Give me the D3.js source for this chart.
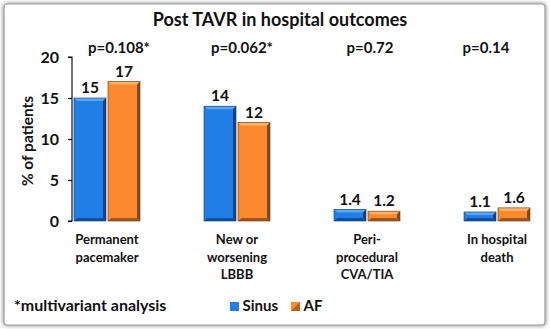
<!DOCTYPE html>
<html>
<head>
<meta charset="utf-8">
<script src="https://cdn.jsdelivr.net/npm/d3@7"></script>
<style>
  html, body { margin: 0; padding: 0; background: #ffffff; }
  svg text { font-family: Lato, "Open Sans", "DejaVu Sans", sans-serif; font-weight: bold; fill: #111; }
</style>
</head>
<body>
<svg id="chart" width="550" height="329"></svg>
<script>
// ---- data ----
const categories = [["Permanent", "pacemaker"], ["New or", "worsening", "LBBB"], ["Peri-", "procedural", "CVA/TIA"], ["In hospital", "death"]];
const seriesNames = ["Sinus", "AF"];
const sinusValues = [15, 14, 1.4, 1.1];
const afValues = [17, 12, 1.2, 1.6];
const valueLabels = [["15", "17"], ["14", "12"], ["1.4", "1.2"], ["1.1", "1.6"]];
const pValues = ["p=0.108*", "p=0.062*", "p=0.72", "p=0.14"];
const yTicks = [0, 5, 10, 15, 20];
const title = "Post TAVR in hospital outcomes";
const yTitle = "% of patients";
const footnote = "*multivariant analysis";

// ---- layout ----
const pOffset = [12, 5, 3, -11];
const svg = d3.select("#chart");
const defs = svg.append("defs");

const f = defs.append("filter").attr("id", "shadow").attr("x", "-5%").attr("y", "-5%").attr("width", "110%").attr("height", "110%");
f.append("feGaussianBlur").attr("in", "SourceAlpha").attr("stdDeviation", 2.2);
f.append("feOffset").attr("dx", 0).attr("dy", 0).attr("result", "b");
f.append("feFlood").attr("flood-color", "#000").attr("flood-opacity", 0.55);
f.append("feComposite").attr("in2", "b").attr("operator", "in");
const fm = f.append("feMerge");
fm.append("feMergeNode");
fm.append("feMergeNode").attr("in", "SourceGraphic");

svg.append("rect").attr("x", 0).attr("y", 0).attr("width", 550).attr("height", 329).attr("fill", "#ffffff");
svg.append("rect").attr("x", 4).attr("y", 4).attr("width", 541).attr("height", 321)
  .attr("rx", 3).attr("fill", "#ffffff").attr("stroke", "#9a9a9a").attr("stroke-width", 1.2)
  .attr("filter", "url(#shadow)");

const x = d3.scalePoint().domain(d3.range(categories.length)).range([107, 497]);
const y = d3.scaleLinear().domain([0, 20]).range([221, 57]);
const barW = 32, gap = 2;

// title
svg.append("text").attr("x", 280).attr("y", 26).attr("text-anchor", "middle")
  .style("font-size", "18px").text(title);

// y axis
const yAxis = d3.axisLeft(y).tickValues(yTicks).tickSize(4).tickPadding(9).tickFormat(d3.format("d"));
const ga = svg.append("g").attr("transform", "translate(72,0)").call(yAxis);
ga.select(".domain").attr("stroke", "#111").attr("stroke-width", 1.2).attr("d", `M-4,${y(20)}H0V${y(0)}H-4`);
ga.selectAll(".tick line").attr("stroke", "#111").attr("stroke-width", 1.2);
ga.selectAll(".tick text").style("font-size", "16px").style("font-family", "Lato, 'Open Sans', sans-serif").style("font-weight", "bold").attr("fill", "#111");

svg.append("text").attr("transform", `translate(33,${(y(0) + y(20)) / 2 + 2}) rotate(-90)`)
  .attr("text-anchor", "middle").style("font-size", "15.5px").text(yTitle);

// bar styles
const styles = [
  { main: "#1f7fe6", light: "#5aa6f5", dark: "#0b4592", edge: "#0a3a7a" },
  { main: "#fb8a2e", light: "#ffb46a", dark: "#8e4714", edge: "#6b3510" }
];

function drawBar(g, x0, v, s) {
  const top = y(v), bot = y(0), w = barW, h = bot - top;
  const b = Math.min(3, h / 3);
  g.append("rect").attr("x", x0).attr("y", top).attr("width", w).attr("height", h).attr("fill", s.main);
  g.append("path").attr("d", `M${x0},${top}H${x0 + w}L${x0 + w - b},${top + b}H${x0 + b}Z`).attr("fill", s.light);
  g.append("path").attr("d", `M${x0 + w},${top}V${bot}L${x0 + w - b},${bot - b}V${top + b}Z`).attr("fill", s.dark);
  g.append("path").attr("d", `M${x0},${bot}H${x0 + w}L${x0 + w - b},${bot - b}H${x0 + b}Z`).attr("fill", s.dark).attr("opacity", 0.8);
  g.append("path").attr("d", `M${x0},${top}V${bot}L${x0 + b},${bot - b}V${top + b}Z`).attr("fill", s.main).attr("opacity", 0.9);
  g.append("rect").attr("x", x0).attr("y", top).attr("width", w).attr("height", h)
    .attr("fill", "none").attr("stroke", s.edge).attr("stroke-width", 0.6);
}

const gb = svg.append("g");
categories.forEach((c, i) => {
  const cx = x(i);
  const vals = [sinusValues[i], afValues[i]];
  vals.forEach((v, j) => {
    const x0 = j === 0 ? cx - gap / 2 - barW : cx + gap / 2;
    drawBar(gb, x0, v, styles[j]);
    svg.append("text").attr("x", x0 + barW / 2).attr("y", y(v) - 5).attr("text-anchor", "middle")
      .style("font-size", "15.5px").text(valueLabels[i][j]);
  });
  svg.append("text").attr("x", cx + pOffset[i]).attr("y", 53).attr("text-anchor", "middle")
    .style("font-size", "15px").text(pValues[i]);
  const t = svg.append("text").attr("text-anchor", "middle").style("font-size", "13px");
  c.forEach((line, k) => {
    t.append("tspan").attr("x", cx).attr("y", 244 + k * 17.5).text(line);
  });
});

// footnote
svg.append("text").attr("x", 14).attr("y", 311).style("font-size", "16px").text(footnote);

// legend
const legX = [230, 291];
seriesNames.forEach((n, j) => {
  svg.append("rect").attr("x", legX[j]).attr("y", 302).attr("width", 9).attr("height", 9).attr("fill", styles[j].main);
  if (j === 1) {
    svg.append("path").attr("d", `M${legX[j] + 9},302V311H${legX[j]}Z`).attr("fill", styles[j].dark).attr("opacity", 0.6);
  }
  svg.append("text").attr("x", legX[j] + 12.5).attr("y", 311).style("font-size", "15px").text(n);
});
</script>
</body>
</html>
